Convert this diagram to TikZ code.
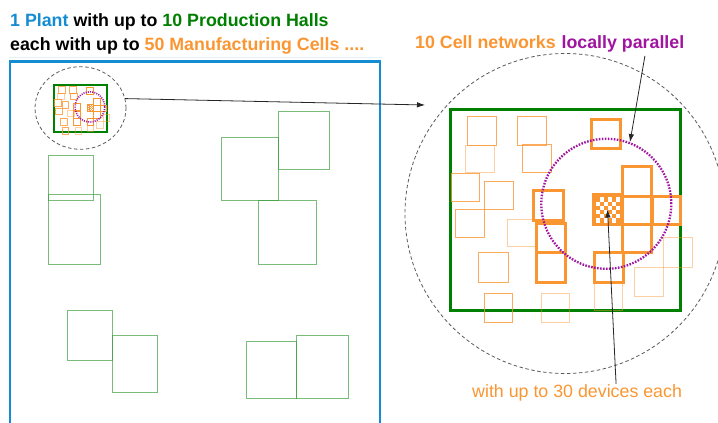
\documentclass[tikz,border=0pt]{standalone}
\usepackage{fontspec}
\setmainfont{Liberation Sans}
\usetikzlibrary{arrows.meta,shapes.geometric}
\definecolor{plantblue}{RGB}{20,140,210}
\definecolor{hallgreen}{RGB}{0,128,0}
\definecolor{cellorange}{RGB}{250,150,50}
\definecolor{parpurple}{RGB}{160,20,160}

% one production hall with its cells, drawn in the coordinates of the zoomed view
\newcommand{\hallcells}{%
  \draw[hall] (450,109.3) rectangle (680,310.7);
  \draw[cell] (467.3,116.7) rectangle (496.7,145.7);
  \draw[cell] (517.3,116) rectangle (546.7,145);
  \draw[palecell] (465.3,145) rectangle (494.7,172);
  \draw[cell] (522.3,144) rectangle (551.7,172.3);
  \draw[cell] (451.7,173.3) rectangle (479,201.7);
  \draw[cell] (484.3,181) rectangle (513.3,209.3);
  \draw[cell] (455,209.3) rectangle (484.3,237);
  \draw[palecell] (507.3,219.3) rectangle (536.7,246.7);
  \draw[cell] (478.7,252.3) rectangle (508,282.3);
  \draw[cell] (484,293.3) rectangle (512.7,322.3);
  \draw[palecell] (541,293.3) rectangle (569.3,322.3);
  \draw[palecell] (594.3,281.7) rectangle (622.7,310);
  \draw[palecell] (634.3,267.3) rectangle (663.3,296.3);
  \draw[palecell] (663.3,237.7) rectangle (692,267.7);
  \draw[bigcell] (591.3,119.3) rectangle (620.7,148.3);
  \draw[bigcell] (533.3,190.7) rectangle (563,220);
  \draw[bigcell] (536,223.3) rectangle (565.7,252.7);
  \draw[bigcell] (536,252.7) rectangle (565.7,282.3);
  \draw[bigcell] (594.3,252.7) rectangle (623.3,282.3);
  \draw[bigcell] (622.3,166.7) rectangle (651.7,196);
  \draw[bigcell] (622.3,196) rectangle (651.7,224.3);
  \draw[bigcell] (652.3,196) rectangle (680,224.3);
  \draw[bigcell] (622.3,224.3) rectangle (651.7,252.7);
  % the cell with its devices
  \fill[cellorange] (592,193.3) rectangle (622.7,226);
  \fill[white] (596,197.3) rectangle (620,222.7);
  \foreach \i in {0,2,4}
    \foreach \j in {0,2,4} {
      \fill[cellorange] ({596+4*\i},{197.3+4.23*\j}) rectangle ++(4,4.23);
      \fill[cellorange] ({600+4*\i},{201.53+4.23*\j}) rectangle ++(4,4.23);
    }
}

\begin{document}
\begin{tikzpicture}[x=1pt, y=-1pt,
    plant/.style={draw=plantblue, line width=2.5pt},
    hall/.style={draw=hallgreen, line width=3pt},
    smallhall/.style={draw=hallgreen!80!white, line width=1pt, draw opacity=0.65},
    cell/.style={draw=cellorange, line width=1pt, draw opacity=0.8},
    palecell/.style={cell, draw opacity=0.45},
    bigcell/.style={draw=cellorange, line width=3pt},
    parallel/.style={draw=parpurple, line width=2.3pt, dash pattern=on 1.6pt off 1.4pt},
    zoomring/.style={draw=black!65, line width=0.8pt, dash pattern=on 3.5pt off 2.5pt, inner sep=0pt, outer sep=0pt},
    pointer/.style={draw=black!85, line width=0.8pt, -{Latex[length=8pt,width=5.5pt]}}]
  \tikzstyle{title} = [font=\fontsize{17.8}{20}\selectfont\bfseries, inner sep=0pt, anchor=base west]
  \tikzstyle{note} = [font=\fontsize{17.8}{20}\selectfont, text=cellorange, inner sep=0pt, anchor=base west]
  \useasboundingbox (0,0) rectangle (718,423);

  \node[title] (plantline) at (10,26) {\textcolor{plantblue}{1 Plant} with up to \textcolor{hallgreen}{10 Production Halls}};
  \node[title] (hallline) at (10,50) {each with up to \textcolor{cellorange}{50 Manufacturing Cells ....}};
  \draw[plantblue!12] (9,57.3) -- (382,57.3);

  % the plant
  \draw[plant] (10,423) -- (10,61.7) -- (380,61.7) -- (380,423);
  \draw[smallhall] (48.7,155.7) rectangle (93.7,200);
  \draw[smallhall] (48.7,194.3) rectangle (100.3,264);
  \draw[smallhall] (221,137) rectangle (278.7,200);
  \draw[smallhall] (278.7,111.7) rectangle (329.3,169);
  \draw[smallhall] (258.7,200) rectangle (316.7,264);
  \draw[smallhall] (67.3,310) rectangle (112.7,360.3);
  \draw[smallhall] (112.7,335.3) rectangle (157,392.3);
  \draw[smallhall] (246.3,341.3) rectangle (296.7,398.3);
  \draw[smallhall] (296.7,335.3) rectangle (348.3,398.3);

  % first hall, small
  \begin{scope}[shift={(54.3,85)}, xscale=0.228, yscale=0.232, shift={(-450,-109.3)},
      hall/.style={draw=hallgreen, line width=2pt},
      cell/.style={draw=cellorange, line width=0.8pt, draw opacity=0.8},
      bigcell/.style={draw=cellorange, line width=1pt},
      parallel/.style={draw=parpurple, line width=1.6pt, dash pattern=on 1pt off 1.2pt}]
    \hallcells
    \draw[parallel] (606.3,203.8) circle (65);
  \end{scope}
  \node[zoomring, ellipse, minimum width=91, minimum height=82.6] (zoomsmall) at (80.5,108) {};

  % first hall, zoomed
  \node[zoomring, circle, minimum size=320] (zoombig) at (565,213.5) {};
  \hallcells
  \node[parallel, circle, minimum size=130, inner sep=0pt] (parcircle) at (606.3,203.8) {};
  \coordinate (hub) at (607.5,209.5);
  \coordinate (zoomend) at (425,105);

  \node[title, text=cellorange] (cellnets) at (415,48) {10 Cell networks};
  \node[title, text=parpurple] (locpar) at ([xshift=5.5]cellnets.base east) {locally parallel};
  \node[note] (devices) at (472,397) {with up to 30 devices each};

  \draw[pointer] (zoomsmall.12) -- (zoomend);
  \draw[pointer] ([xshift=22,yshift=-4]locpar.south) -- (parcircle.69);
  \draw[pointer] ([xshift=39]devices.north) -- (hub);
\end{tikzpicture}
\end{document}
